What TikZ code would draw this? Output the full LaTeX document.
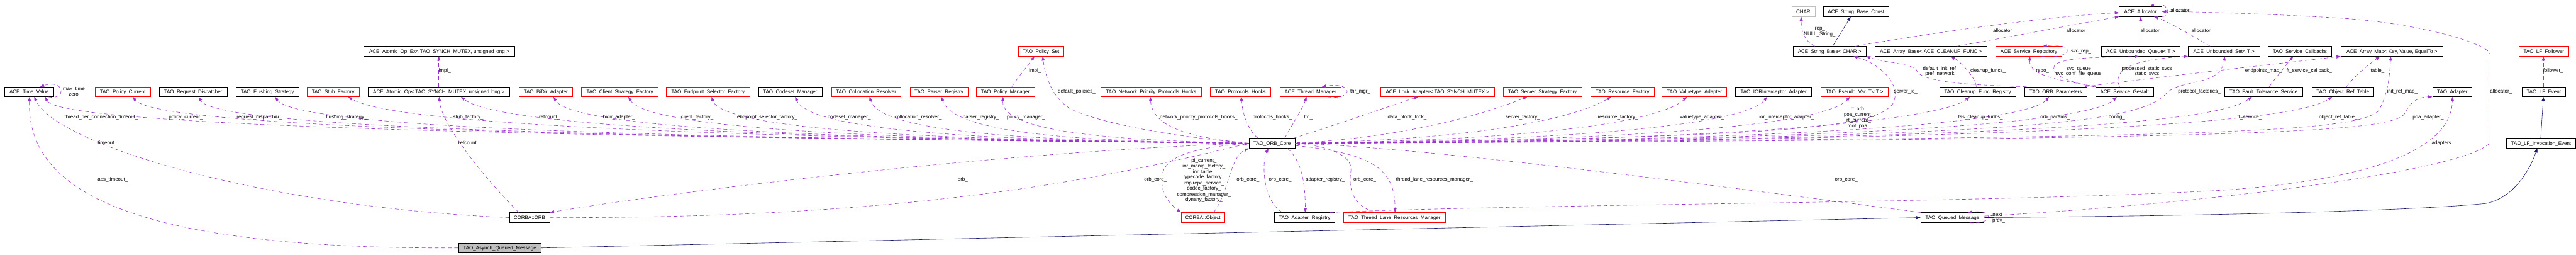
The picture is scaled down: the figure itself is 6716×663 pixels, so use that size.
\documentclass[tikz,border=0pt]{standalone}
\usepackage{fontspec}
\newfontfamily\dfont{Liberation Sans}
\usetikzlibrary{arrows.meta}
\definecolor{depc}{HTML}{9A32CD}
\definecolor{inhc}{HTML}{191970}
\definecolor{greyc}{HTML}{BFBFBF}
\newcommand\dfs{\dfont\fontsize{13.1pt}{14.7pt}\selectfont}
\newcommand\lb[3]{\node[lbl] (#1) at (#2) {#3};}
\begin{document}
\begin{tikzpicture}[x=1pt,y=-1pt,
  bx/.style={draw=black, fill=white, line width=1pt, minimum height=25.5pt, minimum width=#1,
    inner sep=0pt, text height=9.5pt, text depth=0.5pt, font=\dfs},
  rbx/.style={bx={#1}, draw=red},
  lbl/.style={inner sep=0pt, text height=9.5pt, text depth=0.5pt, font=\dfs},
  dep/.style={draw=depc, line width=1pt, dash pattern=on 10pt off 7pt, -{Triangle[length=11pt,width=8pt]}},
  inh/.style={draw=inhc, line width=1pt, -{Triangle[length=11pt,width=8pt]}}]
\useasboundingbox (0,0) rectangle (6716,663);

% ---- row A
\node[bx=61pt, draw=greyc] (char) at (4701.5,30) {CHAR};
\node[bx=172pt] (strconst) at (4839,30) {ACE\_String\_Base\_Const};
\node[bx=111pt] (alloc) at (5580.5,30) {ACE\_Allocator};
% ---- row B
\node[bx=394pt] (atomicex) at (1145,133.6) {ACE\_Atomic\_Op\_Ex< TAO\_SYNCH\_MUTEX, unsigned long >};
\node[rbx=118pt] (policyset) at (2714,133.6) {TAO\_Policy\_Set};
\node[bx=190pt] (strbase) at (4770,133.6) {ACE\_String\_Base< CHAR >};
\node[bx=292pt] (arraybase) at (5034,133.6) {ACE\_Array\_Base< ACE\_CLEANUP\_FUNC >};
\node[rbx=173pt] (svcrepo) at (5289.5,133.6) {ACE\_Service\_Repository};
\node[bx=204pt] (uqueue) at (5581,133.6) {ACE\_Unbounded\_Queue< T >};
\node[bx=186pt] (uset) at (5798,133.6) {ACE\_Unbounded\_Set< T >};
\node[bx=166pt] (svccb) at (5996,133.6) {TAO\_Service\_Callbacks};
\node[bx=266pt] (arraymap) at (6236,133.6) {ACE\_Array\_Map< Key, Value, EqualTo >};
\node[rbx=130pt] (lffollower) at (6632,133.6) {TAO\_LF\_Follower};
% ---- row C
\node[bx=128pt] (tv) at (76,239) {ACE\_Time\_Value};
\node[rbx=145pt] (policycur) at (320,239) {TAO\_Policy\_Current};
\node[bx=177pt] (reqdisp) at (503.5,239) {TAO\_Request\_Dispatcher};
\node[bx=164pt] (flush) at (697,239) {TAO\_Flushing\_Strategy};
\node[rbx=135pt] (stubf) at (868.5,239) {TAO\_Stub\_Factory};
\node[bx=370pt] (atomic) at (1144,239) {ACE\_Atomic\_Op< TAO\_SYNCH\_MUTEX, unsigned long >};
\node[rbx=139.5pt] (bidir) at (1423,239) {TAO\_BiDir\_Adapter};
\node[rbx=200pt] (clientsf) at (1616,239) {TAO\_Client\_Strategy\_Factory};
\node[rbx=217.5pt] (epsel) at (1846,239) {TAO\_Endpoint\_Selector\_Factory};
\node[bx=165.5pt] (codeset) at (2060,239) {TAO\_Codeset\_Manager};
\node[rbx=180.5pt] (colloc) at (2258,239) {TAO\_Collocation\_Resolver};
\node[rbx=150.5pt] (parser) at (2448,239) {TAO\_Parser\_Registry};
\node[rbx=152pt] (policymgr) at (2621,239) {TAO\_Policy\_Manager};
\node[rbx=263.5pt] (netprio) at (3001,239) {TAO\_Network\_Priority\_Protocols\_Hooks};
\node[rbx=157.5pt] (protohooks) at (3234,239) {TAO\_Protocols\_Hooks};
\node[rbx=159pt] (thrmgr) at (3416.5,239) {ACE\_Thread\_Manager};
\node[rbx=296pt] (lockadapter) at (3748,239) {ACE\_Lock\_Adapter< TAO\_SYNCH\_MUTEX >};
\node[rbx=205pt] (serversf) at (4021.5,239) {TAO\_Server\_Strategy\_Factory};
\node[rbx=164.5pt] (resf) at (4230,239) {TAO\_Resource\_Factory};
\node[rbx=169pt] (valuetype) at (4417.5,239) {TAO\_Valuetype\_Adapter};
\node[bx=198pt] (iorint) at (4624,239) {TAO\_IORInterceptor\_Adapter};
\node[rbx=175.5pt] (pseudovar) at (4835,239) {TAO\_Pseudo\_Var\_T< T >};
\node[bx=197.5pt] (cleanup) at (5156,239) {TAO\_Cleanup\_Func\_Registry};
\node[bx=161pt] (orbparams) at (5359.5,239) {TAO\_ORB\_Parameters};
\node[bx=152pt] (gestalt) at (5539,239) {ACE\_Service\_Gestalt};
\node[bx=203pt] (ftservice) at (5901.5,239) {TAO\_Fault\_Tolerance\_Service};
\node[bx=161pt] (objreftable) at (6108,239) {TAO\_Object\_Ref\_Table};
\node[bx=103pt] (adapter) at (6393.5,239) {TAO\_Adapter};
\node[bx=114pt] (lfevent) at (6632,239) {TAO\_LF\_Event};
% ---- row D
\node[bx=121pt] (core) at (3316.5,373) {TAO\_ORB\_Core};
\node[bx=180pt] (lfinv) at (6625,373) {TAO\_LF\_Invocation\_Event};
% ---- row E
\node[bx=105pt] (orb) at (1380.5,566.6) {CORBA::ORB};
\node[rbx=114pt] (object) at (3136,566.6) {CORBA::Object};
\node[bx=158pt] (adreg) at (3401,566.6) {TAO\_Adapter\_Registry};
\node[rbx=265pt] (thrlane) at (3635.5,566.6) {TAO\_Thread\_Lane\_Resources\_Manager};
\node[bx=165pt] (queued) at (5090,566.6) {TAO\_Queued\_Message};
% ---- row F
\node[bx=216pt, fill=greyc] (asynch) at (1303,645.6) {TAO\_Asynch\_Queued\_Message};

% ---- ORB_Core to the left
\draw[dep] (core.west) .. controls (1900,360) and (160,340) .. ([xshift=42pt]tv.south);
\draw[dep] (core.west) .. controls (2000,360) and (420,345) .. ([xshift=26pt]policycur.south);
\draw[dep] (core.west) .. controls (2100,361) and (570,348) .. ([xshift=14.5pt]reqdisp.south);
\draw[dep] (core.west) .. controls (2200,362) and (790,350) .. ([xshift=20pt]flush.south);
\draw[dep] (core.west) .. controls (2300,363) and (1050,340) .. ([xshift=39.5pt]stubf.south);
\draw[dep] (core.west) .. controls (2400,364) and (1320,345) .. ([xshift=58pt]atomic.south);
\draw[dep] (core.west) .. controls (2500,365) and (1500,350) .. ([xshift=20pt]bidir.south);
\draw[dep] (core.west) .. controls (2600,366) and (1700,352) .. ([xshift=22pt]clientsf.south);
\draw[dep] (core.west) .. controls (2650,367) and (1890,352) .. ([xshift=9pt]epsel.south);
\draw[dep] (core.west) .. controls (2750,368) and (2120,355) .. ([xshift=13pt]codeset.south);
\draw[dep] (core.west) .. controls (2800,368) and (2300,356) .. ([xshift=9pt]colloc.south);
\draw[dep] (core.west) .. controls (2900,369) and (2490,358) .. ([xshift=6pt]parser.south);
\draw[dep] (core.west) .. controls (2950,366) and (2610,350) .. ([xshift=-6pt]policymgr.south);
\draw[dep] (core.west) .. controls (3100,360) and (2900,330) .. (2800,288) .. controls (2745,262) and (2725,200) .. ([xshift=4.5pt]policyset.south);
\draw[dep] (core.west) .. controls (3150,362) and (3005,345) .. ([xshift=-2pt]netprio.south);
\draw[dep] ([xshift=24pt]core.north west) .. controls (3255,340) and (3240,300) .. ([xshift=2pt]protohooks.south);
% ---- ORB_Core to the right
\draw[dep] ([xshift=33pt]core.north) .. controls (3365,330) and (3395,285) .. ([xshift=-10pt]thrmgr.south);
\draw[dep] ([xshift=44pt]thrmgr.south) .. controls (3530,262) and (3530,212) .. ([xshift=30pt]thrmgr.north);
\draw[dep] ([xshift=-5pt]core.north east) .. controls (3500,320) and (3640,270) .. ([xshift=-50pt]lockadapter.south);
\draw[dep] (core.east) .. controls (3700,355) and (3900,285) .. ([xshift=-40pt]serversf.south);
\draw[dep] (core.east) .. controls (3900,362) and (4120,300) .. ([xshift=-30pt]resf.south);
\draw[dep] (core.east) .. controls (4100,364) and (4340,305) .. ([xshift=-19pt]valuetype.south);
\draw[dep] (core.east) .. controls (4350,364) and (4570,300) .. ([xshift=-17pt]iorint.south);
\draw[dep] (core.east) .. controls (4550,365) and (4780,300) .. ([xshift=-12pt]pseudovar.south);
\draw[dep] (core.east) .. controls (4700,358) and (4890,330) .. (4935,270) .. controls (4960,220) and (4900,165) .. ([xshift=62pt]strbase.south);
\draw[dep] (core.east) .. controls (4800,366) and (5090,290) .. ([xshift=-21pt]cleanup.south);
\draw[dep] (core.east) .. controls (5000,366) and (5300,300) .. ([xshift=-17.5pt]orbparams.south);
\draw[dep] (core.east) .. controls (5150,366) and (5470,300) .. ([xshift=-20.5pt]gestalt.south);
\draw[dep] (core.east) .. controls (5300,360) and (5580,320) .. (5650,241) .. controls (5690,205) and (5790,225) .. ([xshift=2pt]uset.south);
\draw[dep] (core.east) .. controls (5400,366) and (5790,310) .. ([xshift=-30.5pt]ftservice.south);
\draw[dep] (core.east) .. controls (5600,366) and (6000,305) .. ([xshift=-28pt]objreftable.south);
\draw[dep] (core.east) .. controls (5800,360) and (6130,345) .. (6200,290) .. controls (6225,250) and (6230,200) .. ([xshift=-3pt]arraymap.south);
\draw[dep] (core.east) .. controls (5900,364) and (6240,345) .. (6270,295) .. controls (6285,262) and (6310,252) .. (adapter.south west);
% ---- edges around ORB_Core, lower part
\draw[dep] ([xshift=28pt]object.north) .. controls (3205,500) and (3205,410) .. (core.south west);
\draw[dep] (core.west) .. controls (3100,385) and (3030,410) .. (3029,465) .. controls (3028,510) and (3050,530) .. (object.north west);
\draw[dep] ([xshift=-58pt]adreg.north) .. controls (3290,520) and (3290,420) .. ([xshift=-9.5pt]core.south);
\draw[dep] ([xshift=40pt]core.south) .. controls (3395,420) and (3403,480) .. ([xshift=2pt]adreg.north);
\draw[dep] ([xshift=-50pt]thrlane.north) .. controls (3525,535) and (3515,490) .. (3522,445) .. controls (3528,400) and (3450,380) .. (core.east);
\draw[dep] ([yshift=-6pt]core.east) .. controls (3580,400) and (3637,440) .. ([xshift=1.5pt]thrlane.north);
\draw[dep] (queued.north west) .. controls (4300,460) and (3700,385) .. (core.east);
\draw[dep] (core.west) .. controls (2600,395) and (1750,500) .. (orb.north east);
\draw[dep] (orb.east) .. controls (2400,570) and (2900,460) .. (core.west);
% ---- left part
\draw[dep] (orb.west) .. controls (700,540) and (150,380) .. ([xshift=13pt]tv.south);
\draw[dep] ([xshift=-28pt]orb.north) .. controls (1250,450) and (1150,320) .. ([xshift=1pt]atomic.south);
\draw[dep] (asynch.west) .. controls (300,650) and (70,480) .. ([xshift=1pt]tv.south);
\draw[dep] ([xshift=-15pt]tv.south east) .. controls (175,262) and (170,205) .. ([xshift=28pt]tv.north);
\draw[dep] (atomic.north) -- (atomic.north |- atomicex.south);
\draw[dep] ([xshift=17pt]policymgr.north) .. controls (2655,200) and (2680,170) .. ([xshift=-17pt]policyset.south);
% ---- upper right part
\draw[dep] ([xshift=-38pt]strbase.north) .. controls (4700,105) and (4696,75) .. ([xshift=-5.5pt]char.south);
\draw[inh] ([xshift=8pt]strbase.north) -- ([xshift=-14pt]strconst.south);
\draw[dep] ([xshift=67pt]strbase.north) .. controls (4950,100) and (5300,45) .. ([yshift=-3pt]alloc.west);
\draw[dep] ([xshift=67pt]arraybase.north) .. controls (5220,100) and (5400,65) .. (alloc.south west);
\draw[dep] (uqueue.north) -- (uqueue.north |- alloc.south);
\draw[dep] ([xshift=-36pt]uset.north) .. controls (5720,95) and (5650,55) .. ([xshift=35pt]alloc.south);
\draw[dep] (alloc.south east) .. controls (5665,42) and (5650,0) .. ([xshift=24.5pt]alloc.north);
\draw[dep] ([yshift=4pt]queued.east) .. controls (5700,535) and (6420,450) .. (6492,372) -- (6492,140) .. controls (6480,110) and (6300,60) .. (6100,47) .. controls (5900,35) and (5700,30) .. (alloc.east);
\draw[dep] ([xshift=45pt]queued.south) .. controls (5200,585) and (5200,545) .. ([xshift=41pt]queued.north);
\draw[dep] ([xshift=-3.5pt]cleanup.north) .. controls (5150,200) and (5110,160) .. ([xshift=52pt]arraybase.south);
\draw[dep] ([xshift=-76pt]orbparams.north) .. controls (5150,222) and (5010,215) .. (4998,185) .. controls (4990,165) and (4920,165) .. (strbase.south east);
\draw[dep] ([xshift=-74pt]gestalt.north) .. controls (5380,210) and (5290,200) .. ([xshift=2.5pt]svcrepo.south);
\draw[dep] ([xshift=32pt]svcrepo.south) .. controls (5410,155) and (5410,110) .. ([xshift=36pt]svcrepo.north);
\draw[dep] ([xshift=-80pt]gestalt.north) .. controls (5370,210) and (5340,185) .. (5360,167) .. controls (5390,150) and (5450,150) .. ([xshift=-5pt]uqueue.south);
\draw[dep] ([xshift=-13pt]gestalt.north) .. controls (5500,170) and (5600,152) .. (uset.south west);
\draw[dep] ([xshift=76pt]orbparams.north) .. controls (5550,210) and (5900,170) .. (arraymap.south west);
\draw[dep] ([xshift=14.5pt]ftservice.north) .. controls (5935,200) and (5960,170) .. ([xshift=-17.5pt]svccb.south);
\draw[dep] ([xshift=10pt]objreftable.north) .. controls (6140,195) and (6180,165) .. ([xshift=-31pt]arraymap.south);
\draw[dep] ([xshift=66pt]adreg.north) .. controls (4000,530) and (5200,530) .. (5800,495) .. controls (6150,470) and (6390,400) .. ([xshift=0.5pt]adapter.south);
\draw[dep] ([xshift=-1pt]lfevent.north) -- ([xshift=-1pt]lffollower.south);
\draw[inh] ([xshift=-1pt]lfinv.north) -- ([xshift=-1pt]lfevent.south);
\draw[inh] (queued.east) .. controls (5800,562) and (6300,548) .. (6480,530) .. controls (6560,515) and (6600,430) .. ([xshift=-10pt]lfinv.south);
\draw[inh] (asynch.east) -- (queued.west);

% ---- labels
\lb{l1}{192.5,230}{max\_time}
\lb{l2}{192,245}{zero}
\lb{l3}{264,305}{thread\_per\_connection\_timeout\_}
\lb{l4}{484.5,305}{policy\_current\_}
\lb{l5}{280,371}{timeout\_}
\lb{l6}{294,467}{abs\_timeout\_}
\lb{l7}{676.5,305}{request\_dispatcher\_}
\lb{l8}{903.5,305}{flushing\_strategy\_}
\lb{l9}{1159.5,184}{impl\_}
\lb{l10}{1221,305}{stub\_factory\_}
\lb{l11}{1432.5,305}{refcount\_}
\lb{l12}{1222.5,371}{refcount\_}
\lb{l13}{1614,305}{bidir\_adapter\_}
\lb{l14}{1817.5,305}{client\_factory\_}
\lb{l15}{2000.5,305}{endpoint\_selector\_factory\_}
\lb{l16}{2214,305}{codeset\_manager\_}
\lb{l17}{2394,305}{collocation\_resolver\_}
\lb{l18}{2557.5,305}{parser\_registry\_}
\lb{l19}{2675,305}{policy\_manager\_}
\lb{l20}{2698.5,184}{impl\_}
\lb{l21}{2807,238}{default\_policies\_}
\lb{l22}{2510,467}{orb\_}
\lb{l23}{3125,305}{network\_priority\_protocols\_hooks\_}
\lb{l24}{3317,305}{protocols\_hooks\_}
\lb{l25}{3012.5,467}{orb\_core\_}
\lb{l26a}{3139,417}{pi\_current\_}
\lb{l26b}{3139,432}{ior\_manip\_factory\_}
\lb{l26c}{3139,446.5}{ior\_table\_}
\lb{l26d}{3139,461}{typecode\_factory\_}
\lb{l26e}{3139,476}{implrepo\_service\_}
\lb{l26f}{3139,490.5}{codec\_factory\_}
\lb{l26g}{3139,505.7}{compression\_manager\_}
\lb{l26h}{3139,520}{dynany\_factory\_}
\lb{l27}{3253.5,467}{orb\_core\_}
\lb{l28}{3337.5,467}{orb\_core\_}
\lb{l29}{3411,305}{tm\_}
\lb{l30}{3546.5,238}{thr\_mgr\_}
\lb{l31}{3455,467}{adapter\_registry\_}
\lb{l32}{3558,467}{orb\_core\_}
\lb{l33}{3740,467}{thread\_lane\_resources\_manager\_}
\lb{l34}{3668.5,305}{data\_block\_lock\_}
\lb{l35}{3970,305}{server\_factory\_}
\lb{l36}{4218,305}{resource\_factory\_}
\lb{l37}{4437,305}{valuetype\_adapter\_}
\lb{l38}{4658,305}{ior\_interceptor\_adapter\_}
\lb{l39a}{4846,283}{rt\_orb\_}
\lb{l39b}{4846,298.5}{poa\_current\_}
\lb{l39c}{4846,313}{rt\_current\_}
\lb{l39d}{4846,328}{root\_poa\_}
\lb{l40}{4813.5,467}{orb\_core\_}
\lb{l41a}{4745,74}{rep\_}
\lb{l41b}{4744,87.5}{NULL\_String\_}
\lb{l42}{4968.5,238}{server\_id\_}
\lb{l43a}{5060,177.6}{default\_init\_ref\_}
\lb{l43b}{5061,191.5}{pref\_network\_}
\lb{l44}{5224.5,79.5}{allocator\_}
\lb{l45}{5415.5,79.5}{allocator\_}
\lb{l46}{5183,184}{cleanup\_funcs\_}
\lb{l47}{5425.5,132}{svc\_rep\_}
\lb{l48}{5325,184}{repo\_}
\lb{l49a}{5423.5,177.6}{svc\_queue\_}
\lb{l49b}{5423,191.5}{svc\_conf\_file\_queue\_}
\lb{l50a}{5601,177.6}{processed\_static\_svcs\_}
\lb{l50b}{5600.5,191.5}{static\_svcs\_}
\lb{l51}{5609,79.5}{allocator\_}
\lb{l52}{5687.5,27.5}{allocator\_}
\lb{l53}{5742,79.5}{allocator\_}
\lb{l54}{5163.5,305}{tss\_cleanup\_funcs\_}
\lb{l55}{5358,305}{orb\_params\_}
\lb{l56}{5519,305}{config\_}
\lb{l57a}{5211,558}{next\_}
\lb{l57b}{5211,574}{prev\_}
\lb{l58}{5734,238}{protocol\_factories\_}
\lb{l59}{5901.5,184}{endpoints\_map\_}
\lb{l60}{6020.5,184}{ft\_service\_callback\_}
\lb{l61}{5865,305}{ft\_service\_}
\lb{l62}{6096,305}{object\_ref\_table\_}
\lb{l63}{6198.5,184}{table\_}
\lb{l64}{6263,238}{init\_ref\_map\_}
\lb{l65}{6330.5,305}{poa\_adapter\_}
\lb{l66}{6369,371}{adapters\_}
\lb{l67}{6520.5,238}{allocator\_}
\lb{l68}{6656.5,184}{follower\_}
\end{tikzpicture}
\end{document}
